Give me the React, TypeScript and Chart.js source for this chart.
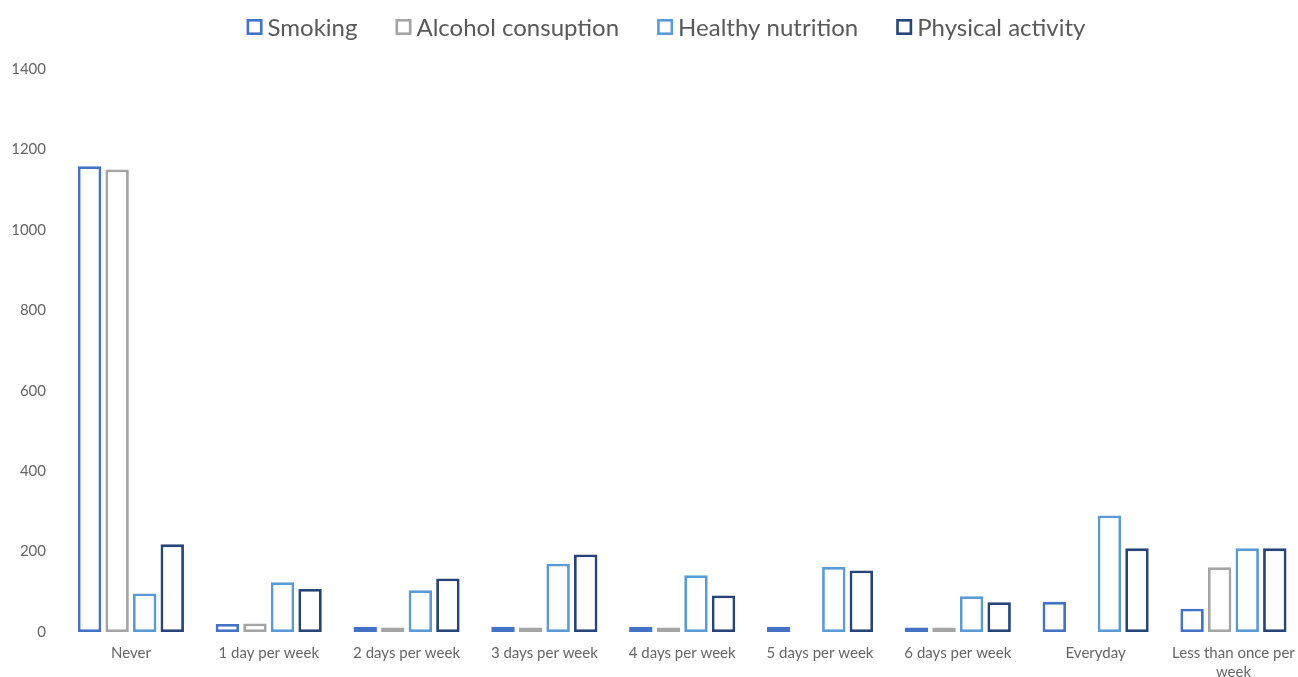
import React, { useEffect, useRef } from "react";
import { Chart, registerables } from "chart.js";

Chart.register(...registerables);

// Frequency categories along the x axis
const categories: (string | string[])[] = [
  "Never",
  "1 day per week",
  "2 days per week",
  "3 days per week",
  "4 days per week",
  "5 days per week",
  "6 days per week",
  "Everyday",
  ["Less than once per", "week"],
];

// Number of respondents per behaviour and frequency
const smoking = [1158, 20, 13, 13, 13, 13, 11, 75, 58];
const alcohol = [1150, 21, 11, 11, 11, null, 11, null, 161];
const healthyNutrition = [96, 124, 104, 170, 141, 162, 89, 290, 208];
const physicalActivity = [218, 107, 133, 193, 91, 153, 74, 208, 208];

const yTicks = [0, 200, 400, 600, 800, 1000, 1200, 1400];

const seriesNames = ["Smoking", "Alcohol consuption", "Healthy nutrition", "Physical activity"];
const seriesColors = ["#4472C4", "#A5A5A5", "#5B9BD5", "#264478"];

const FONT = "Lato, 'Open Sans', sans-serif";

// Legend drawn above the plot: outlined square + label per series
const topLegend = {
  id: "topLegend",
  afterDraw(chart: any) {
    const ctx: CanvasRenderingContext2D = chart.ctx;
    const box = 16;
    const gap = 5;
    const itemGap = 38;
    const centerX = 666;
    const centerY = 27;
    ctx.save();
    ctx.font = `24px ${FONT}`;
    ctx.textBaseline = "middle";
    ctx.textAlign = "left";
    const items = chart.data.datasets.map((ds: any) => ({
      text: ds.label as string,
      color: ds.borderColor as string,
      w: ctx.measureText(ds.label).width,
    }));
    const total =
      items.reduce((s: number, it: any) => s + box + gap + it.w, 0) + itemGap * (items.length - 1);
    let x = centerX - total / 2;
    for (const it of items) {
      const lw = 2.6;
      ctx.fillStyle = "#ffffff";
      ctx.fillRect(x, centerY - box / 2, box, box);
      ctx.lineWidth = lw;
      ctx.strokeStyle = it.color;
      ctx.strokeRect(x + lw / 2, centerY - box / 2 + lw / 2, box - lw, box - lw);
      ctx.fillStyle = "#595959";
      ctx.fillText(it.text, x + box + gap, centerY + 1);
      x += box + gap + it.w + itemGap;
    }
    ctx.restore();
  },
};

export default function App() {
  const canvasRef = useRef<HTMLCanvasElement | null>(null);

  useEffect(() => {
    document.body.style.overflow = "hidden";
    document.documentElement.style.overflow = "hidden";
    const canvas = canvasRef.current;
    if (!canvas) return;
    const values = [smoking, alcohol, healthyNutrition, physicalActivity];
    const chart = new Chart(canvas, {
      type: "bar",
      data: {
        labels: categories,
        datasets: values.map((data, i) => ({
          label: seriesNames[i],
          data,
          backgroundColor: "#ffffff",
          borderColor: seriesColors[i],
          borderWidth: 2.8,
          borderSkipped: false,
          barPercentage: 0.85,
          categoryPercentage: 0.8,
        })),
      },
      options: {
        responsive: false,
        animation: false,
        maintainAspectRatio: false,
        layout: { padding: { top: 69, right: 3, left: 0, bottom: 0 } },
        plugins: {
          legend: { display: false },
          tooltip: { enabled: false },
        },
        scales: {
          x: {
            grid: { display: false, drawTicks: false },
            border: { display: false },
            ticks: {
              color: "#666666",
              font: { family: FONT, size: 15, lineHeight: 1.3 },
              padding: 11,
              maxRotation: 0,
              autoSkip: false,
            },
            afterFit(scale: any) {
              scale.height = 45;
            },
          },
          y: {
            min: 0,
            max: 1400,
            grid: { display: false, drawTicks: false },
            border: { display: false },
            afterBuildTicks(scale: any) {
              scale.ticks = yTicks.map((v) => ({ value: v }));
            },
            ticks: {
              color: "#666666",
              font: { family: FONT, size: 15 },
              padding: 16,
              callback: (v: any) => String(v),
            },
            afterFit(scale: any) {
              scale.width = 62;
            },
          },
        },
      },
      plugins: [topLegend],
    });
    return () => chart.destroy();
  }, []);

  return (
    <div style={{ position: "absolute", left: 0, top: 0, width: 1306, height: 677, background: "#fff" }}>
      <canvas ref={canvasRef} width={1306} height={677} style={{ display: "block" }} />
    </div>
  );
}
